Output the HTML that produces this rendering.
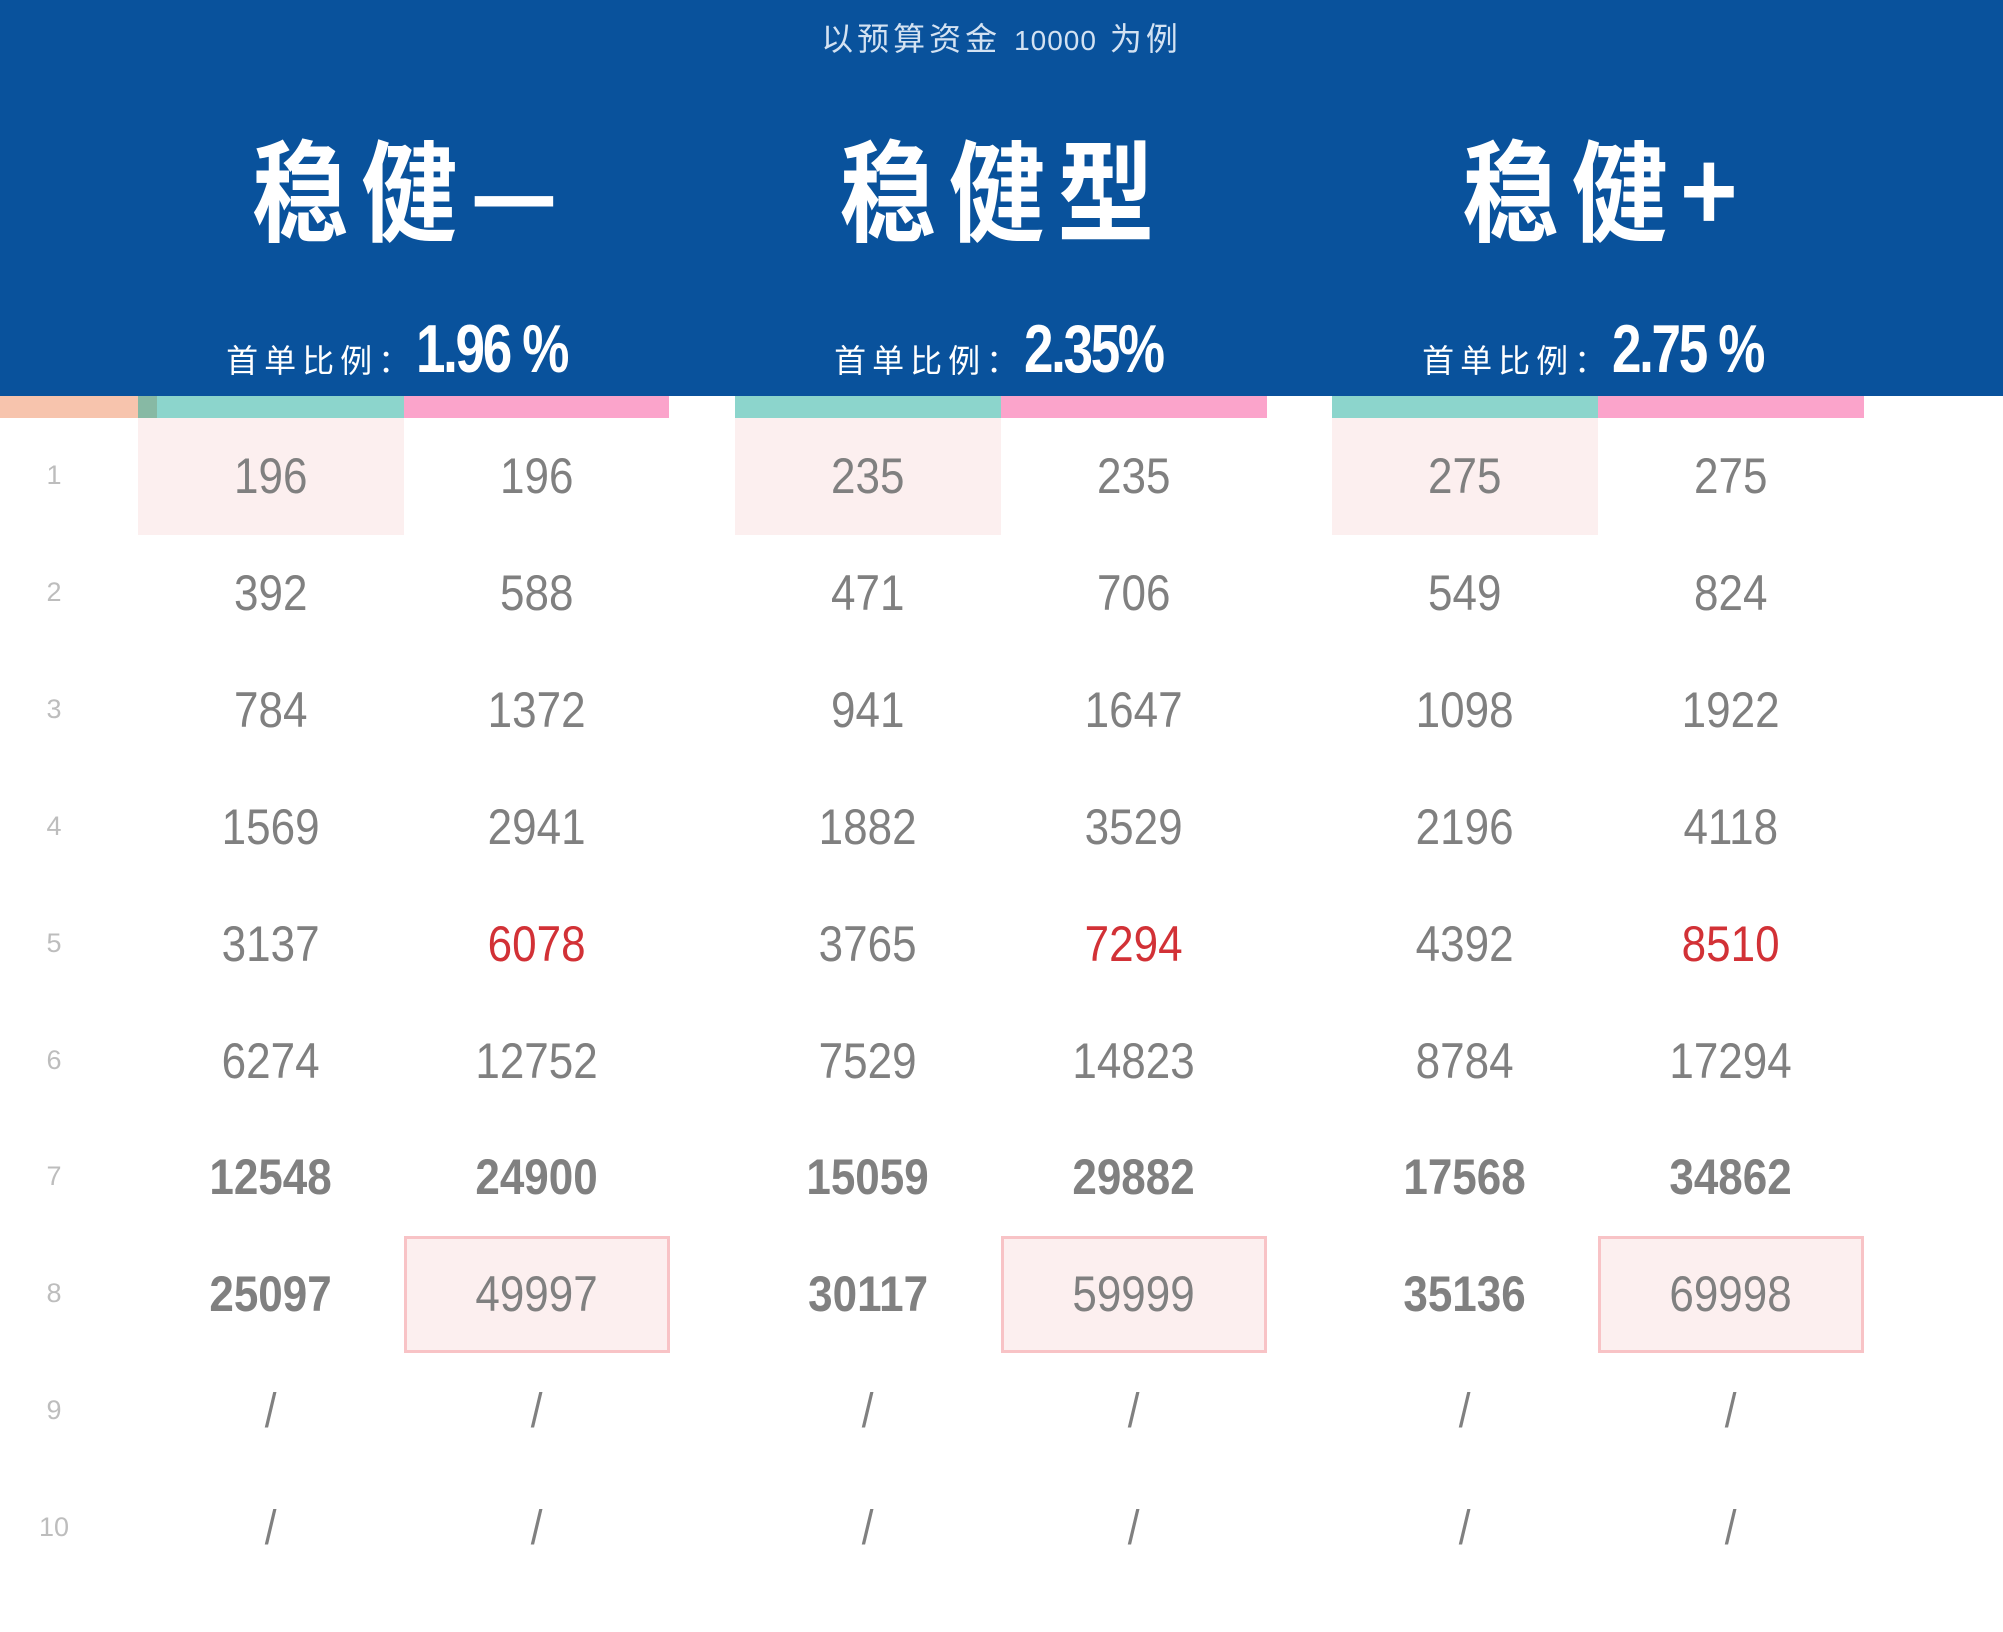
<!DOCTYPE html>
<html><head><meta charset="utf-8">
<style>
html,body{margin:0;padding:0;}
body{width:2003px;height:1632px;position:relative;background:#fff;overflow:hidden;font-family:"Liberation Sans","Noto Sans CJK SC",sans-serif;}
.abs{position:absolute;}
#header{left:0;top:0;width:2003px;height:396px;background:#09529c;}
.sub{left:0;width:2003px;top:14px;text-align:center;color:#d3e2f2;font-size:32px;letter-spacing:4px;}
.title{top:130px;width:600px;text-align:center;color:#fff;font-size:110px;font-weight:bold;letter-spacing:14px;font-family:"Noto Sans CJK SC",sans-serif;transform:scaleX(0.88);line-height:1;}
.ratio{top:310px;width:600px;text-align:center;color:#fff;white-space:nowrap;}
.ratio .lab{font-size:32px;letter-spacing:6px;font-family:"Noto Sans CJK SC",sans-serif;}
.ratio .num{font-size:68px;font-weight:bold;display:inline-block;transform:scaleX(0.78);transform-origin:left bottom;letter-spacing:-3px;font-family:"Liberation Sans",sans-serif;}
.bar{top:396px;height:22px;}
.cell{width:266px;height:117px;line-height:117px;text-align:center;font-size:50px;color:#808080;}
.cell span{display:inline-block;transform:scaleX(0.88);}
.rown{left:30px;width:48px;text-align:center;font-size:27px;color:#bdbdbd;}
</style></head><body>
<div id="header" class="abs"></div>
<div class="abs sub">以预算资金 <span style="font-size:28px;letter-spacing:1px">10000</span> 为例</div>

<div class="abs title" style="left:111px">稳健—</div>
<div class="abs title" style="left:703px">稳健型</div>
<div class="abs title" style="left:1306px">稳健+</div>

<div class="abs ratio" style="left:118px"><span class="lab">首单比例：</span><span class="num">1.96 %</span></div>
<div class="abs ratio" style="left:718px"><span class="lab">首单比例：</span><span class="num">2.35%</span></div>
<div class="abs ratio" style="left:1314px"><span class="lab">首单比例：</span><span class="num">2.75 %</span></div>

<div class="abs bar" style="left:0;width:138px;background:#f7c4ad"></div>
<div class="abs bar" style="left:138px;width:19px;background:#87b9a4"></div>
<div class="abs bar" style="left:157px;width:247px;background:#8cd5cc"></div>
<div class="abs bar" style="left:404px;width:265px;background:#fba4cb"></div>
<div class="abs bar" style="left:735px;width:266px;background:#8cd5cc"></div>
<div class="abs bar" style="left:1001px;width:266px;background:#fba4cb"></div>
<div class="abs bar" style="left:1332px;width:266px;background:#8cd5cc"></div>
<div class="abs bar" style="left:1598px;width:266px;background:#fba4cb"></div>

<div id="table"></div>
<script>
const rowLabels = ["1","2","3","4","5","6","7","8","9","10"];
const g1a = ["196","392","784","1569","3137","6274","12548","25097","/","/"];
const g1b = ["196","588","1372","2941","6078","12752","24900","49997","/","/"];
const g2a = ["235","471","941","1882","3765","7529","15059","30117","/","/"];
const g2b = ["235","706","1647","3529","7294","14823","29882","59999","/","/"];
const g3a = ["275","549","1098","2196","4392","8784","17568","35136","/","/"];
const g3b = ["275","824","1922","4118","8510","17294","34862","69998","/","/"];
const columns = [g1a,g1b,g2a,g2b,g3a,g3b];
const colNames = ["g1-a","g1-b","g2-a","g2-b","g3-a","g3-b"];
const colLeft = [138,404,735,1001,1332,1598];
const top0 = 418, rowH = 116.9;
const tbl = document.getElementById('table');
function yOf(i){return top0 + i*rowH;}
rowLabels.forEach((r,i)=>{
  const d=document.createElement('div');
  d.className='abs rown';
  d.style.top=(yOf(i)+42)+'px';
  d.textContent=r;
  
  
  tbl.appendChild(d);
});
columns.forEach((col,c)=>{
  col.forEach((v,i)=>{
    const d=document.createElement('div');
    d.className='abs cell';
    d.style.left=colLeft[c]+'px';
    d.style.top=yOf(i)+'px';
    const isB = c%2===1;
    if(i===0 && !isB){d.style.background='#fcefef';}
    if(i===7 && isB){d.style.background='#fcefef';d.style.boxSizing='border-box';d.style.border='3px solid #f8c3c6';d.style.lineHeight='111px';}
    if(i===4 && isB){d.style.color='#d23136';}
    if((i===6)||(i===7 && !isB)){d.style.fontWeight='bold';}
    if(v==='/'){d.style.fontSize='48px';}
    const s=document.createElement('span');
    s.textContent=v;
    d.appendChild(s);
    
    
    tbl.appendChild(d);
  });
});
</script>
</body></html>
